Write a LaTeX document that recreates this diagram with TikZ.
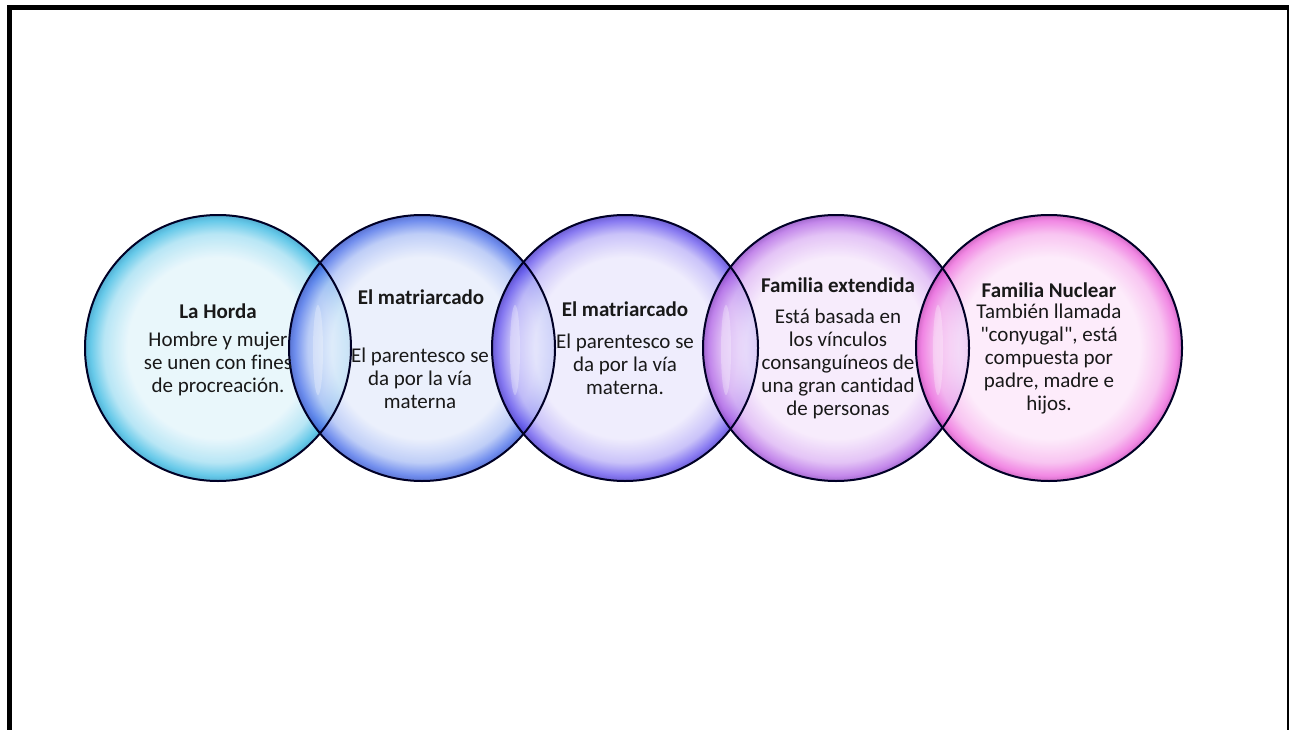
\documentclass[tikz,border=0pt]{standalone}
\usepackage{fontspec}
\setmainfont[Ligatures={TeXOff,CommonOff}]{Carlito}
\definecolor{paleA}{HTML}{E4F5FB}\definecolor{midA}{HTML}{A6E0F3}\definecolor{rimA}{HTML}{40BCE4}\definecolor{rimdA}{HTML}{2A9CC8}
\definecolor{paleB}{HTML}{E7EDFC}\definecolor{midB}{HTML}{AFC2F6}\definecolor{rimB}{HTML}{4E72EA}\definecolor{rimdB}{HTML}{3553C8}
\definecolor{paleC}{HTML}{ECE9FD}\definecolor{midC}{HTML}{BDB4F8}\definecolor{rimC}{HTML}{6A58EE}\definecolor{rimdC}{HTML}{4A38C8}
\definecolor{paleD}{HTML}{F6E8FC}\definecolor{midD}{HTML}{DDB5F4}\definecolor{rimD}{HTML}{B56AE6}\definecolor{rimdD}{HTML}{8E46C4}
\definecolor{paleE}{HTML}{FDE8FA}\definecolor{midE}{HTML}{F7B6EE}\definecolor{rimE}{HTML}{EE6ADD}\definecolor{rimdE}{HTML}{C848B8}
\pgfdeclareradialshading{bubA}{\pgfpoint{0bp}{0bp}}{color(0bp)=(paleA); color(17bp)=(paleA); color(21.5bp)=(midA); color(24bp)=(rimA); color(25bp)=(rimdA); color(50bp)=(rimdA)}
\pgfdeclareradialshading{bubB}{\pgfpoint{0bp}{0bp}}{color(0bp)=(paleB); color(17bp)=(paleB); color(21.5bp)=(midB); color(24bp)=(rimB); color(25bp)=(rimdB); color(50bp)=(rimdB)}
\pgfdeclareradialshading{bubC}{\pgfpoint{0bp}{0bp}}{color(0bp)=(paleC); color(17bp)=(paleC); color(21.5bp)=(midC); color(24bp)=(rimC); color(25bp)=(rimdC); color(50bp)=(rimdC)}
\pgfdeclareradialshading{bubD}{\pgfpoint{0bp}{0bp}}{color(0bp)=(paleD); color(17bp)=(paleD); color(21.5bp)=(midD); color(24bp)=(rimD); color(25bp)=(rimdD); color(50bp)=(rimdD)}
\pgfdeclareradialshading{bubE}{\pgfpoint{0bp}{0bp}}{color(0bp)=(paleE); color(17bp)=(paleE); color(21.5bp)=(midE); color(24bp)=(rimE); color(25bp)=(rimdE); color(50bp)=(rimdE)}
\begin{document}
\begin{tikzpicture}[x=1pt,y=-1pt,
  bubble/.style={circle, minimum size=266pt, inner sep=0pt, shade, fill opacity=0.8},
  rim/.style={circle, minimum size=266pt, inner sep=0pt, draw=black!85!blue, line width=2pt},
  ttl/.style={font=\bfseries\fontsize{21}{24}\selectfont, text=black!90, inner sep=0pt},
  bodytxt/.style={font=\fontsize{21}{23}\selectfont, align=center, text=black!90, inner sep=0pt},
  shine/.style={fill=white, fill opacity=0.28, draw=none}]
\useasboundingbox (0,0) rectangle (1289,730);
\fill[white] (0,0) rectangle (1289,730);
% frame
\draw[line width=5pt] (9.5,735) -- (9.5,8) -- (1289.5,8) -- (1289.5,735);
% bubbles
\node[bubble, shading=bubA] (c1) at (218,348) {};
\node[bubble, shading=bubB] (c2) at (422,348) {};
\node[bubble, shading=bubC] (c3) at (625,348) {};
\node[bubble, shading=bubD] (c4) at (836,348) {};
\node[bubble, shading=bubE] (c5) at (1049,348) {};
% lens shines
\fill[shine] (318,350) ellipse (5 and 45);
\fill[shine] (515,350) ellipse (5 and 45);
\fill[shine] (726,350) ellipse (5 and 45);
\fill[shine] (938,350) ellipse (5 and 45);
% outlines
\node[rim] (o1) at (c1) {};
\node[rim] (o2) at (c2) {};
\node[rim] (o3) at (c3) {};
\node[rim] (o4) at (c4) {};
\node[rim] (o5) at (c5) {};
% texts
\node[ttl] (t1) at (218,311) {La Horda};
\node[bodytxt] (b1) at (218,364) {Hombre y mujer\\se unen con fines\\de procreación.};
\node[ttl] (t2) at (421,297) {El matriarcado};
\node[bodytxt] (b2) at (420,378) {El parentesco se\\da por la vía\\materna};
\node[ttl] (t3) at (625,309) {El matriarcado};
\node[bodytxt] (b3) at (625,364) {El parentesco se\\da por la vía\\materna.};
\node[ttl] (t4) at (838,285) {Familia extendida};
\node[bodytxt] (b4) at (838,364) {Está basada en\\los vínculos\\consanguíneos de\\una gran cantidad\\de personas};
\node[ttl] (t5) at (1049,290) {Familia Nuclear};
\node[bodytxt] (b5) at (1049,359) {También llamada\\"conyugal", está\\compuesta por\\padre, madre e\\hijos.};
\end{tikzpicture}
\end{document}
